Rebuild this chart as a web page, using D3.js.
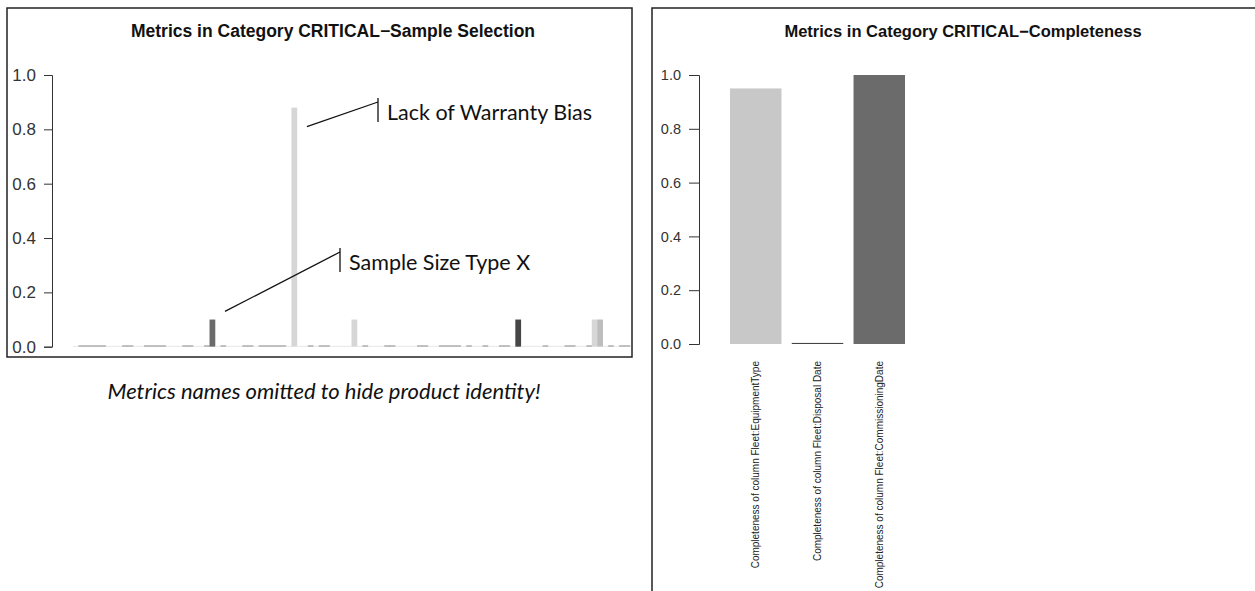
<!DOCTYPE html>
<html>
<head>
<meta charset="utf-8">
<title>Metrics in Category CRITICAL</title>
<script src="https://cdnjs.cloudflare.com/ajax/libs/d3/7.8.5/d3.min.js"></script>
<style>
    body { margin: 0; background: #fff; }
    svg { display: block; }
    .axis text { font-family: "Liberation Sans", Arial, sans-serif; fill: #333; }
    .axis path, .axis line { stroke: #333; }
    .title { font-family: "Liberation Sans", Arial, sans-serif; font-weight: bold; fill: #111; }
    .note { font-family: Lato, Carlito, Calibri, sans-serif; fill: #111; }
    .bar-label { font-family: "Liberation Sans", Arial, sans-serif; fill: #222; }
</style>
</head>
<body>
<div id="chart"></div>
<script>

// Sample Selection metrics (names hidden, so plain ids)
const ssValues = [
    0.003, 0.005, 0.005, 0.005, 0.005, 0.005, 0.003, 0.003, 0.003, 0.005,
    0.005, 0.003, 0.003, 0.005, 0.005, 0.005, 0.005, 0.003, 0.003, 0.003,
    0.005, 0.005, 0.003, 0.003, 0.005, 0.1,   0.003, 0.005, 0.003, 0.003,
    0.003, 0.005, 0.005, 0.003, 0.005, 0.005, 0.005, 0.005, 0.005, 0.003,
    0.88,  0.003, 0.003, 0.005, 0.003, 0.005, 0.005, 0.003, 0.003, 0.003,
    0.003, 0.1,   0.003, 0.005, 0.003, 0.003, 0.003, 0.005, 0.005, 0.003,
    0.003, 0.003, 0.003, 0.005, 0.005, 0.003, 0.003, 0.005, 0.005, 0.005,
    0.005, 0.003, 0.005, 0.003, 0.003, 0.005, 0.003, 0.003, 0.005, 0.005,
    0.003, 0.1,   0.003, 0.003, 0.003, 0.003, 0.005, 0.003, 0.003, 0.003,
    0.005, 0.005, 0.003, 0.003, 0.005, 0.1,   0.1,   0.003, 0.005, 0.003,
    0.005, 0.005
];

// metric sub-group of each bar, decides its grey
const ssGroup = [
    'b', 'd', 'd', 'd', 'd', 'd', 'b', 'b', 'b', 'd',
    'd', 'b', 'b', 'd', 'd', 'd', 'd', 'b', 'b', 'b',
    'd', 'd', 'b', 'b', 'd', 'k', 'b', 'd', 'b', 'b',
    'b', 'd', 'd', 'b', 'd', 'd', 'd', 'd', 'd', 'b',
    'l', 'b', 'b', 'd', 'b', 'd', 'd', 'b', 'b', 'b',
    'b', 'l', 'b', 'd', 'b', 'b', 'b', 'd', 'd', 'b',
    'b', 'b', 'b', 'd', 'd', 'b', 'b', 'd', 'd', 'd',
    'd', 'b', 'd', 'b', 'b', 'd', 'b', 'b', 'd', 'd',
    'b', 'x', 'b', 'b', 'b', 'b', 'd', 'b', 'b', 'b',
    'd', 'd', 'b', 'b', 'd', 'l', 'm', 'b', 'd', 'b',
    'd', 'd'
];
const ssIds = ssValues.map((d, i) => "metric " + (i + 1));

// Completeness metrics
const compLabels = [
    "Completeness of column Fleet:EquipmentType",
    "Completeness of column Fleet:Disposal Date",
    "Completeness of column Fleet:CommissioningDate"
];
const compValues = [0.95, 0.004, 1.0];

const yTicks = [0, 0.2, 0.4, 0.6, 0.8, 1.0];

// annotations on the left chart: which bar, and the value where the leader line ends
const annotations = [
    {text: "Lack of Warranty Bias", bar: 40, value: 0.81},
    {text: "Sample Size Type X", bar: 25, value: 0.13}
];


let svg = d3.select("#chart").append("svg")
    .attr("width", 1255)
    .attr("height", 591);

// panel frames
svg.append("rect")
    .attr("x", 7).attr("y", 8)
    .attr("width", 625).attr("height", 349)
    .attr("fill", "none")
    .attr("stroke", "#222")
    .attr("stroke-width", 1.5);

svg.append("path")
    .attr("d", "M652,591V8H1255")
    .attr("fill", "none")
    .attr("stroke", "#222")
    .attr("stroke-width", 1.5);


/* ---------- left: Sample Selection ---------- */

let xLeft = d3.scaleBand()
    .domain(ssIds)
    .range([73, 630])
    .padding(0);

let yLeft = d3.scaleLinear()
    .domain([0, 1])
    .range([346.7, 75]);

let greys = d3.scaleOrdinal()
    .domain(['b', 'd', 'k', 'l', 'm', 'x'])
    .range(['#e2e2e2', '#a3a3a3', '#6b6b6b', '#d6d6d6', '#bdbdbd', '#464646']);

let left = svg.append("g");

left.selectAll(".bar")
    .data(ssValues)
    .enter().append("rect")
    .attr("class", "bar")
    .attr("x", (d, i) => xLeft(ssIds[i]))
    .attr("y", d => yLeft(d))
    .attr("width", xLeft.bandwidth() + 0.3)
    .attr("height", d => yLeft(0) - yLeft(d))
    .attr("fill", (d, i) => greys(ssGroup[i]));

left.append("g")
    .attr("class", "axis")
    .attr("transform", "translate(52,0)")
    .call(d3.axisLeft(yLeft)
        .tickValues(yTicks)
        .tickFormat(d3.format(".1f"))
        .tickSizeOuter(0)
        .tickSize(8)
        .tickPadding(8))
    .call(g => g.selectAll("text").attr("font-size", 17));

left.append("text")
    .attr("class", "title")
    .attr("x", 333)
    .attr("y", 37)
    .attr("text-anchor", "middle")
    .attr("font-size", 17.5)
    .text("Metrics in Category CRITICAL\u2212Sample Selection");

// leader lines + labels
let labelPos = [{x: 378, y: 98}, {x: 340, y: 248}];

annotations.forEach((a, i) => {
    let p = labelPos[i];
    let barEnd = xLeft(ssIds[a.bar]) + xLeft.bandwidth() + 10;

    left.append("line")
        .attr("x1", barEnd).attr("y1", yLeft(a.value))
        .attr("x2", p.x).attr("y2", p.y + 4)
        .attr("stroke", "#111").attr("stroke-width", 1.3);

    left.append("line")
        .attr("x1", p.x).attr("y1", p.y)
        .attr("x2", p.x).attr("y2", p.y + 24)
        .attr("stroke", "#111").attr("stroke-width", 1.3);

    left.append("text")
        .attr("class", "note")
        .attr("x", p.x + 9)
        .attr("y", p.y + 22)
        .attr("font-size", 21.5)
        .text(a.text);
});

left.append("text")
    .attr("class", "note")
    .attr("x", 324)
    .attr("y", 399)
    .attr("text-anchor", "middle")
    .attr("font-style", "italic")
    .attr("font-size", 22)
    .text("Metrics names omitted to hide product identity!");


/* ---------- right: Completeness ---------- */

let xRight = d3.scaleBand()
    .domain(compLabels)
    .range([724.85, 910.15])
    .paddingInner(1 / 6)
    .paddingOuter(1 / 12);

let yRight = d3.scaleLinear()
    .domain([0, 1])
    .range([344, 75]);

let compColor = d3.scaleOrdinal()
    .domain(compLabels)
    .range(['#c8c8c8', '#454545', '#6b6b6b']);

let right = svg.append("g");

right.selectAll(".bar")
    .data(compValues)
    .enter().append("rect")
    .attr("class", "bar")
    .attr("x", (d, i) => xRight(compLabels[i]))
    .attr("y", d => yRight(d))
    .attr("width", xRight.bandwidth())
    .attr("height", d => yRight(0) - yRight(d))
    .attr("fill", (d, i) => compColor(compLabels[i]));

right.append("g")
    .attr("class", "axis")
    .attr("transform", "translate(699,0)")
    .call(d3.axisLeft(yRight)
        .tickValues(yTicks)
        .tickFormat(d3.format(".1f"))
        .tickSizeOuter(0)
        .tickSize(10)
        .tickPadding(8))
    .call(g => g.selectAll("text").attr("font-size", 14.5));

right.selectAll(".bar-label")
    .data(compLabels)
    .enter().append("text")
    .attr("class", "bar-label")
    .attr("transform", d => `translate(${xRight(d) + xRight.bandwidth() / 2}, 361) rotate(-90)`)
    .attr("text-anchor", "end")
    .attr("dy", "0.35em")
    .attr("font-size", 10)
    .text(d => d);

right.append("text")
    .attr("class", "title")
    .attr("x", 963)
    .attr("y", 37)
    .attr("text-anchor", "middle")
    .attr("font-size", 16.5)
    .text("Metrics in Category CRITICAL\u2212Completeness");

</script>
</body>
</html>
